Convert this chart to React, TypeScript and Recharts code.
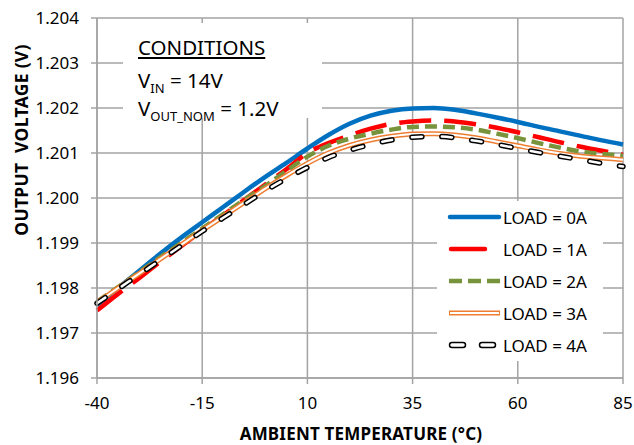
import React from "react";
import {
  LineChart,
  Line,
  CartesianGrid,
  XAxis,
  YAxis,
  Label,
} from "recharts";

const temps = [-40, -35, -30, -25, -20, -15, -10, -5, 0, 5, 10, 15, 20, 25, 30, 35, 40, 45, 50, 55, 60, 65, 70, 75, 80, 85];

const load0A = [1.19762, 1.198, 1.19838, 1.19876, 1.19912, 1.19946, 1.1998, 1.20014, 1.20047, 1.20078, 1.2011, 1.2014, 1.20165, 1.20183, 1.20194, 1.20199, 1.202, 1.20196, 1.20188, 1.20179, 1.20169, 1.20158, 1.20148, 1.20138, 1.20128, 1.20119];
const load1A = [1.1975, 1.19787, 1.19822, 1.19858, 1.19893, 1.19928, 1.19962, 1.19996, 1.2003, 1.20064, 1.201, 1.20122, 1.20139, 1.20154, 1.20165, 1.2017, 1.20172, 1.2017, 1.20164, 1.20156, 1.20146, 1.20135, 1.20124, 1.20114, 1.20105, 1.20096];
const load2A = [1.1977, 1.19802, 1.19835, 1.19868, 1.199, 1.19932, 1.19964, 1.19996, 1.20027, 1.2006, 1.20092, 1.20116, 1.20132, 1.20143, 1.20152, 1.20158, 1.20159, 1.20157, 1.20152, 1.20143, 1.20133, 1.20122, 1.20112, 1.20103, 1.20098, 1.20094];
const load3A = [1.19768, 1.198, 1.19832, 1.19864, 1.19896, 1.19928, 1.19959, 1.1999, 1.20021, 1.2005, 1.20077, 1.201, 1.20117, 1.20129, 1.20137, 1.20142, 1.20143, 1.2014, 1.20134, 1.20125, 1.20116, 1.20107, 1.20099, 1.20093, 1.20089, 1.20085];
const load4A = [1.19766, 1.19798, 1.1983, 1.19862, 1.19894, 1.19926, 1.19956, 1.19986, 1.20016, 1.20043, 1.20068, 1.2009, 1.20106, 1.20119, 1.20129, 1.20135, 1.20137, 1.20134, 1.20127, 1.20119, 1.2011, 1.20101, 1.20093, 1.20085, 1.20077, 1.2007];

const seriesNames = ["LOAD = 0A", "LOAD = 1A", "LOAD = 2A", "LOAD = 3A", "LOAD = 4A"];
const xTicks = [-40, -15, 10, 35, 60, 85];
const yTicks = [1.196, 1.197, 1.198, 1.199, 1.2, 1.201, 1.202, 1.203, 1.204];

const data = temps.map((t, i) => ({
  temp: t,
  load0A: load0A[i],
  load1A: load1A[i],
  load2A: load2A[i],
  load3A: load3A[i],
  load4A: load4A[i],
}));

const FONT = "'Noto Sans', 'Open Sans', sans-serif";
const GRID = "#a3a3a3";

function LegendSample({ idx }: { idx: number }) {
  if (idx === 0)
    return <line x1={13} y1={16} x2={62} y2={16} stroke="#0070C0" strokeWidth={4.5} strokeLinecap="round" />;
  if (idx === 1)
    return <line x1={14} y1={16} x2={48} y2={16} stroke="#FF0000" strokeWidth={4.5} strokeLinecap="round" />;
  if (idx === 2)
    return <line x1={12} y1={16} x2={63} y2={16} stroke="#77933C" strokeWidth={4.5} strokeDasharray="13 6" />;
  if (idx === 3)
    return (
      <g>
        <line x1={12} y1={16} x2={63} y2={16} stroke="#ED7D31" strokeWidth={5} />
        <line x1={13} y1={16} x2={62} y2={16} stroke="#fff" strokeWidth={2} />
      </g>
    );
  return (
    <g>
      <rect x={12.5} y={13.5} width={16} height={5} rx={2.5} fill="#fff" stroke="#000" strokeWidth={1.5} />
      <rect x={42.5} y={13.5} width={16} height={5} rx={2.5} fill="#fff" stroke="#000" strokeWidth={1.5} />
    </g>
  );
}

export default function App() {
  return (
    <div
      style={{
        position: "fixed",
        left: 0,
        top: 0,
        width: 634,
        height: 445,
        background: "#fff",
        fontFamily: FONT,
      }}
    >
      <LineChart
        width={634}
        height={445}
        data={data}
        margin={{ top: 18, right: 11, left: 0, bottom: 0 }}
        style={{ fontFamily: FONT }}
      >
        <CartesianGrid stroke={GRID} strokeWidth={1.5} />
        <XAxis
          dataKey="temp"
          type="number"
          domain={[-40, 85]}
          ticks={xTicks}
          interval={0}
          height={67}
          tickSize={6}
          tickMargin={13}
          stroke={GRID}
          strokeWidth={1.5}
          tick={{ fill: "#000", fontSize: 17 }}
        >
          <Label
            content={() => (
              <text
                x={361}
                y={440}
                textAnchor="middle"
                fontSize={17}
                fontWeight="bold"
                fill="#000"
                letterSpacing={0.2}
                style={{ fontFamily: FONT }}
              >
                AMBIENT TEMPERATURE (°C)
              </text>
            )}
          />
        </XAxis>
        <YAxis
          type="number"
          domain={[1.196, 1.204]}
          ticks={yTicks}
          interval={0}
          width={97}
          tickSize={6}
          tickMargin={12}
          stroke={GRID}
          strokeWidth={1.5}
          tickFormatter={(v: number) => v.toFixed(3)}
          tick={{ fill: "#000", fontSize: 17 }}
        >
          <Label
            content={() => (
              <text
                x={0}
                y={0}
                transform="translate(28,140) rotate(-90)"
                textAnchor="middle"
                fontSize={17.5}
                fontWeight="bold"
                fill="#000"
                letterSpacing={0.3}
                style={{ fontFamily: FONT, whiteSpace: "pre" }}
              >
                OUTPUT  VOLTAGE (V)
              </text>
            )}
          />
        </YAxis>
        <Line type="monotone" dataKey="load0A" name={seriesNames[0]} stroke="#0070C0" strokeWidth={4.5} dot={false} isAnimationActive={false} />
        <Line type="monotone" dataKey="load1A" name={seriesNames[1]} stroke="#FF0000" strokeWidth={4.5} strokeDasharray="32 13" dot={false} isAnimationActive={false} />
        <Line type="monotone" dataKey="load2A" name={seriesNames[2]} stroke="#77933C" strokeWidth={4.5} strokeDasharray="12 6" dot={false} isAnimationActive={false} />
        <Line type="monotone" dataKey="load3A" name={seriesNames[3]} stroke="#ED7D31" strokeWidth={5} dot={false} isAnimationActive={false} />
        <Line type="monotone" dataKey="load3A" stroke="#fff" strokeWidth={2} dot={false} isAnimationActive={false} legendType="none" />
        <Line type="monotone" dataKey="load4A" name={seriesNames[4]} stroke="#000" strokeWidth={5.5} strokeLinecap="round" strokeDasharray="10 20" dot={false} isAnimationActive={false} />
        <Line type="monotone" dataKey="load4A" stroke="#fff" strokeWidth={2.5} strokeLinecap="round" strokeDasharray="10 20" dot={false} isAnimationActive={false} legendType="none" />
      </LineChart>

      {/* conditions note */}
      <div
        style={{
          position: "absolute",
          left: 123,
          top: 23,
          width: 199,
          height: 95,
          background: "#fff",
          fontSize: 20.5,
          color: "#000",
        }}
      >
        <div style={{ position: "absolute", left: 15, top: 10, lineHeight: "28px", textDecoration: "underline" }}>
          CONDITIONS
        </div>
        <div style={{ position: "absolute", left: 15, top: 43, lineHeight: "28px", whiteSpace: "nowrap" }}>
          V<span style={{ fontSize: 13, position: "relative", top: 5 }}>IN</span> = 14V
        </div>
        <div style={{ position: "absolute", left: 15, top: 71, lineHeight: "28px", whiteSpace: "nowrap" }}>
          V<span style={{ fontSize: 13, position: "relative", top: 5 }}>OUT_NOM</span> = 1.2V
        </div>
      </div>

      {/* legend */}
      <div
        style={{
          position: "absolute",
          left: 437,
          top: 201,
          width: 166,
          height: 160,
          background: "#fff",
        }}
      >
        {seriesNames.map((name, i) => (
          <div key={name} style={{ display: "flex", alignItems: "center", height: 32 }}>
            <svg width={65} height={32} style={{ flex: "none" }}>
              <LegendSample idx={i} />
            </svg>
            <span style={{ fontSize: 17, color: "#000", marginLeft: 1, whiteSpace: "nowrap" }}>{name}</span>
          </div>
        ))}
      </div>
    </div>
  );
}
